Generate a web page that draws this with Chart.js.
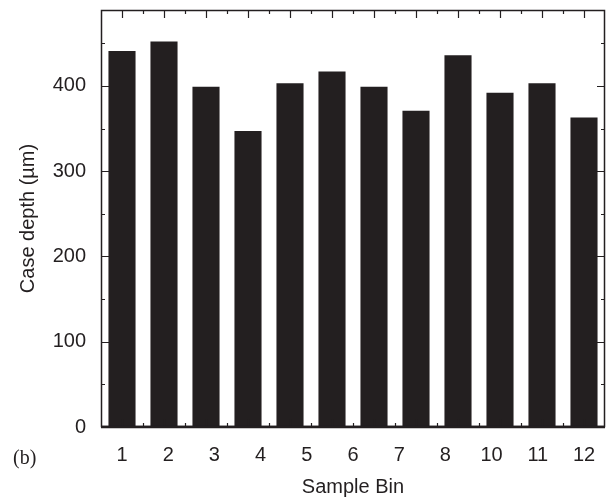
<!DOCTYPE html>
<html>
<head>
<meta charset="utf-8">
<script src="https://cdn.jsdelivr.net/npm/chart.js@4/dist/chart.umd.min.js"></script>
<style>
  body { margin: 0; background: #fff; }
  #wrap { position: relative; width: 606px; height: 500px; }
  #panel { position: absolute; left: 13px; top: 446px; font: 20px "Liberation Serif", "Times New Roman", serif; color: #231f20; }
</style>
</head>
<body>
<div id="wrap">
  <canvas id="graph" width="606" height="500"></canvas>
  <div id="panel">(b)</div>
</div>
<script>
var bins = ["1", "2", "3", "4", "5", "6", "7", "8", "9", "10", "11", "12"];
var caseDepth = [441, 452, 399, 347, 403, 417, 399, 371, 436, 392, 403, 363];
var binLabels = ["1", "2", "3", "4", "5", "6", "7", "8", "10", "11", "12"];
var yTicks = [0, 100, 200, 300, 400];

var ink = "#231f20";
var font = { family: "'Liberation Sans', Arial, sans-serif", size: 20 };

// inward ticks on all four sides plus the frame
var frame = {
  id: 'frame',
  afterDatasetsDraw: function(chart) {
    var ctx = chart.ctx, a = chart.chartArea;
    var x = chart.scales.x, y = chart.scales.y;
    ctx.save();
    ctx.strokeStyle = ink;
    ctx.lineWidth = 1.2;
    ctx.beginPath();
    for (var v = 0; v <= y.max; v += 50) {
      var py = Math.round(y.getPixelForValue(v)) + 0.5;
      var len = v % 100 === 0 ? 8 : 4;
      ctx.moveTo(a.left, py); ctx.lineTo(a.left + len, py);
      ctx.moveTo(a.right, py); ctx.lineTo(a.right - len, py);
    }
    for (var i = 0; i < bins.length; i++) {
      var px = Math.round(x.getPixelForValue(i)) + 0.5;
      ctx.moveTo(px, a.top); ctx.lineTo(px, a.top + 8);
      ctx.moveTo(px, a.bottom); ctx.lineTo(px, a.bottom - 8);
      if (i > 0) {
        var pm = Math.round((x.getPixelForValue(i) + x.getPixelForValue(i - 1)) / 2) + 0.5;
        ctx.moveTo(pm, a.top); ctx.lineTo(pm, a.top + 4);
        ctx.moveTo(pm, a.bottom); ctx.lineTo(pm, a.bottom - 4);
      }
    }
    ctx.stroke();
    ctx.lineWidth = 1.5;
    ctx.strokeRect(a.left + 0.5, a.top + 0.5, a.right - a.left - 1, a.bottom - a.top - 1);
    ctx.lineWidth = 2.5;
    ctx.beginPath();
    ctx.moveTo(a.left, a.bottom); ctx.lineTo(a.right, a.bottom);
    ctx.stroke();
    ctx.restore();
  }
};

var ctx = document.getElementById("graph").getContext('2d');

var myChart = new Chart(ctx, {
  type: 'bar',
  data: {
    labels: bins,
    datasets: [{
      label: 'Case depth',
      data: caseDepth,
      backgroundColor: ink,
      borderWidth: 0,
      barPercentage: 0.645,
      categoryPercentage: 1
    }]
  },
  options: {
    responsive: false,
    animation: false,
    layout: { padding: { top: 10, right: 1, left: 0, bottom: 0 } },
    plugins: { legend: { display: false }, tooltip: { enabled: false } },
    scales: {
      x: { display: false },
      x2: {
        type: 'linear',
        position: 'bottom',
        offset: false,
        min: -0.5,
        max: 11.5,
        grid: { display: false, drawTicks: false, offset: false },
        border: { display: false },
        afterBuildTicks: function(scale) {
          scale.ticks = binLabels.map(function(l, i) { return { value: i * 11 / (binLabels.length - 1) }; });
        },
        afterFit: function(scale) {
          scale.height = 73;
          scale.paddingLeft = 0;
          scale.paddingRight = 0;
        },
        ticks: {
          color: ink, font: font, padding: 16, maxRotation: 0, autoSkip: false,
          callback: function(v, i) { return binLabels[i]; }
        },
        title: { display: true, text: 'Sample Bin', color: ink, font: font, padding: { top: 0, bottom: 1 } }
      },
      y: {
        min: 0,
        max: 489,
        grid: { display: false, drawTicks: false },
        border: { display: false },
        afterBuildTicks: function(scale) {
          scale.ticks = yTicks.map(function(v) { return { value: v }; });
        },
        afterFit: function(scale) {
          scale.width = 101;
          scale.paddingTop = 0;
          scale.paddingBottom = 0;
        },
        ticks: { color: ink, font: font, padding: 15 },
        title: { display: true, text: 'Case depth (\u00b5m)', color: ink, font: font, padding: { top: 16, bottom: 0 } }
      }
    }
  },
  plugins: [frame]
});
</script>
</body>
</html>
